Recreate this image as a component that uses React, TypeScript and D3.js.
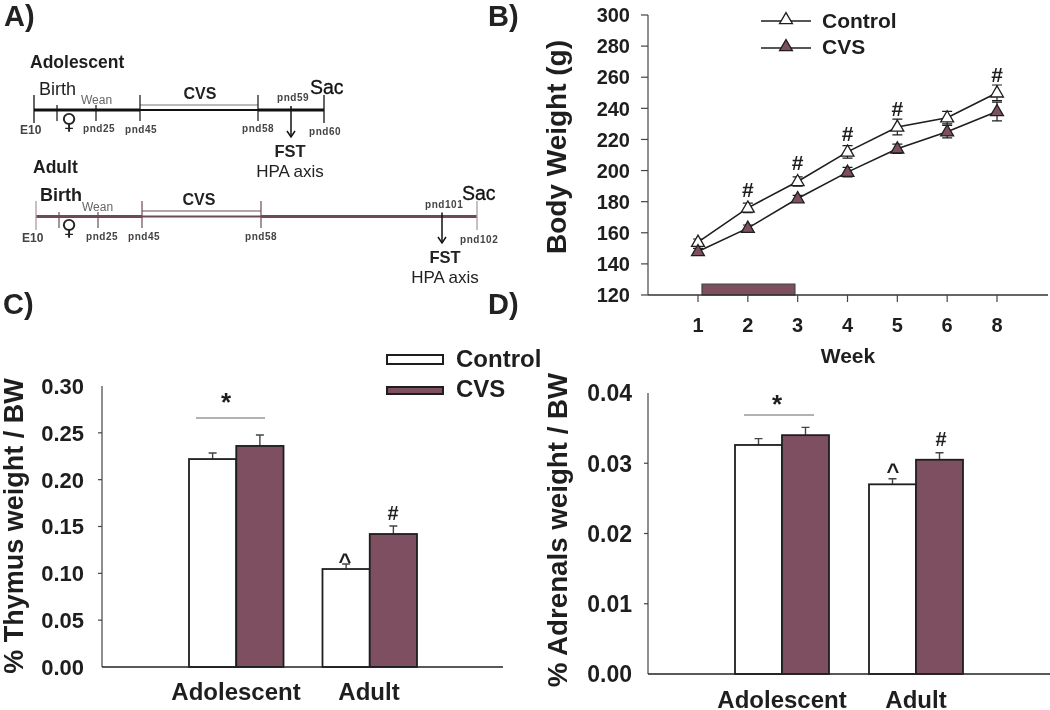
import React from "react";
import * as d3 from "d3";

const FONT = "'Liberation Sans', Arial, sans-serif";
const MAROON = "#7d4f60";
const INK = "#1e1e1e";

// Panel B data
const weeks = ["1", "2", "3", "4", "5", "6", "8"];
const controlWeight = [154, 176, 193, 212, 228, 234, 250];
const cvsWeight = [148, 163, 182, 199, 214, 225, 238];
const controlWeightErr = [2, 3, 3, 4, 5, 4, 5];
const cvsWeightErr = [2, 2, 2, 3, 3, 4, 6];
const hashWeeks = ["2", "3", "4", "5", "8"];
const weightTicks = [120, 140, 160, 180, 200, 220, 240, 260, 280, 300];
const stressSpan = [0.08, 1.945];
const stressTop = 127;

// Panels C and D data
const groups = ["Adolescent", "Adult"];
const seriesNames = ["Control", "CVS"];
const thymusControl = [0.222, 0.1046];
const thymusCvs = [0.236, 0.142];
const thymusControlTop = [0.2285, 0.11];
const thymusCvsTop = [0.2477, 0.1505];
const thymusTicks = [0, 0.05, 0.1, 0.15, 0.2, 0.25, 0.3];
const adrenalControl = [0.0326, 0.027];
const adrenalCvs = [0.034, 0.0305];
const adrenalControlTop = [0.0335, 0.0278];
const adrenalCvsTop = [0.0351, 0.0315];
const adrenalTicks = [0, 0.01, 0.02, 0.03, 0.04];

// Panel A data
const adolescentStages = ["E10", "birth", "pnd25", "pnd45", "pnd58", "pnd59", "pnd60"];
const adultStages = ["E10", "birth", "pnd25", "pnd45", "pnd58", "pnd101", "pnd102"];

type BarProps = {
  left: number; right: number; top: number; bottom: number; domainMax: number;
  bandRange: [number, number]; inner: number; xEnd: number; ticks: number[];
  digits: number; control: number[]; cvs: number[]; controlTop: number[]; cvsTop: number[];
  tickSize: number; tickRight: number; label: string; labelX: number; labelY: number; labelSize: number;
  catY: number; catX: number[]; bracket: [number, number, number]; star: [number, number];
  caret: [number, number]; hash: [number, number];
};

function BarPanel(p: BarProps) {
  const y = d3.scaleLinear().domain([0, p.domainMax]).range([p.bottom, p.top]);
  const g = d3.scaleBand().domain(groups).range(p.bandRange).paddingInner(p.inner).paddingOuter(0);
  const s = d3.scaleBand().domain(seriesNames).range([0, g.bandwidth()]);
  return (
    <g>
      {groups.map((name, i) => (
        <g key={name} transform={`translate(${g(name)},0)`}>
          {seriesNames.map((sn, k) => {
            const v = (k === 0 ? p.control : p.cvs)[i];
            const t = (k === 0 ? p.controlTop : p.cvsTop)[i];
            const cx = s(sn)! + s.bandwidth() / 2;
            return (
              <g key={sn}>
                <path d={`M${cx},${y(v)}V${y(t)}M${cx - 4},${y(t)}H${cx + 4}`} stroke="#444" strokeWidth={1.4} fill="none" />
                <rect x={s(sn)} y={y(v)} width={s.bandwidth()} height={p.bottom - y(v)}
                  fill={k === 0 ? "#fff" : MAROON} stroke={INK} strokeWidth={1.8} />
              </g>
            );
          })}
        </g>
      ))}
      <line x1={p.left} x2={p.left} y1={p.top} y2={p.bottom} stroke="#444" strokeWidth={1.2} />
      <line x1={p.left} x2={p.xEnd} y1={p.bottom} y2={p.bottom} stroke="#222" strokeWidth={1.6} />
      {p.ticks.map((t) => (
        <g key={t}>
          {t > 0 && t < p.domainMax && <line x1={p.left - 4} x2={p.left} y1={y(t)} y2={y(t)} stroke="#444" strokeWidth={1.2} />}
          <text x={p.tickRight} y={y(t)} dy="0.36em" textAnchor="end" fontSize={p.tickSize} fontWeight={700} fill={INK}>
            {t.toFixed(p.digits)}
          </text>
        </g>
      ))}
      <text transform={`translate(${p.labelX},${p.labelY}) rotate(-90)`} textAnchor="middle" fontSize={p.labelSize} fontWeight={700} fill={INK}>
        {p.label}
      </text>
      {groups.map((name, i) => (
        <text key={name} x={p.catX[i]} y={p.catY} textAnchor="middle" fontSize={24} fontWeight={700} fill={INK}>{name}</text>
      ))}
      <line x1={p.bracket[0]} x2={p.bracket[1]} y1={p.bracket[2]} y2={p.bracket[2]} stroke="#666" strokeWidth={1.2} />
      <text x={p.star[0]} y={p.star[1]} textAnchor="middle" fontSize={26} fontWeight={700} fill={INK}>*</text>
      <text x={p.caret[0]} y={p.caret[1]} textAnchor="middle" fontSize={22} fontWeight={700} fill={INK}>^</text>
      <text x={p.hash[0]} y={p.hash[1]} textAnchor="middle" fontSize={20} fontWeight={700} fill={INK}>#</text>
    </g>
  );
}

function WeightPanel() {
  const y = d3.scaleLinear().domain([120, 300]).range([295, 15]);
  const x = d3.scaleLinear().domain([0, 6]).range([698, 997]);
  const line = d3.line<number>().x((_, i) => x(i)).y((d) => y(d));
  const tri = d3.symbol().type(d3.symbolTriangle).size(72)()!;
  const rows = [
    { v: controlWeight, e: controlWeightErr, fill: "#fff" },
    { v: cvsWeight, e: cvsWeightErr, fill: MAROON },
  ];
  return (
    <g>
      <rect x={x(stressSpan[0])} y={y(stressTop)} width={x(stressSpan[1]) - x(stressSpan[0])} height={295 - y(stressTop)}
        fill={MAROON} stroke="#444" strokeWidth={1.2} />
      <line x1={648} x2={648} y1={15} y2={295} stroke="#444" strokeWidth={1.2} />
      <line x1={648} x2={1048} y1={295} y2={295} stroke="#333" strokeWidth={1.4} />
      {weightTicks.map((t) => (
        <g key={t}>
          <line x1={641} x2={648} y1={y(t)} y2={y(t)} stroke="#444" strokeWidth={1.2} />
          <text x={630} y={y(t)} dy="0.36em" textAnchor="end" fontSize={20} fontWeight={700} fill={INK}>{t}</text>
        </g>
      ))}
      {weeks.map((w, i) => (
        <g key={w}>
          <line x1={x(i)} x2={x(i)} y1={295} y2={302} stroke="#444" strokeWidth={1.2} />
          <text x={x(i)} y={332} textAnchor="middle" fontSize={20} fontWeight={700} fill={INK}>{w}</text>
        </g>
      ))}
      <text x={848} y={363} textAnchor="middle" fontSize={21} fontWeight={700} fill={INK}>Week</text>
      <text transform="translate(566,147) rotate(-90)" textAnchor="middle" fontSize={28} fontWeight={700} fill={INK}>Body Weight (g)</text>
      {rows.map((r, k) => (
        <g key={k}>
          <path d={line(r.v)!} fill="none" stroke={INK} strokeWidth={1.6} />
          {r.v.map((v, i) => (
            <g key={i}>
              <path d={`M${x(i) - 5},${y(v + r.e[i])}H${x(i) + 5}M${x(i)},${y(v + r.e[i])}V${y(v - r.e[i])}M${x(i) - 5},${y(v - r.e[i])}H${x(i) + 5}`}
                stroke={INK} strokeWidth={1.2} fill="none" />
              <path d={tri} transform={`translate(${x(i)},${y(v) + 0.5})`} fill={r.fill} stroke={INK} strokeWidth={1.3} />
            </g>
          ))}
        </g>
      ))}
      {hashWeeks.map((w) => {
        const i = weeks.indexOf(w);
        return <text key={w} x={x(i)} y={y(controlWeight[i]) - 11} textAnchor="middle" fontSize={21} fontWeight={700} fill={INK}>#</text>;
      })}
      {seriesNames.map((n, k) => (
        <g key={n}>
          <line x1={761} x2={811} y1={21 + k * 27} y2={21 + k * 27} stroke={INK} strokeWidth={1.4} />
          <path d={tri} transform={`translate(786,${20 + k * 27})`} fill={rows[k].fill} stroke={INK} strokeWidth={1.3} />
          <text x={822} y={28 + k * 26} fontSize={21} fontWeight={700} fill={INK}>{n}</text>
        </g>
      ))}
    </g>
  );
}

type TimelineProps = {
  stages: string[]; range: number[]; axisY: number; color: string; frame: string;
  title: string; titleXY: [number, number]; birth: [number, number, number];
  wean: [number, number]; cvs: [number, number]; sac: [number, number];
  labels: [string, number, number][]; arrowEnd: number;
  texts: [number, number, number]; doubleTop: number; doubleColor: string;
  tall: [number, number]; short: [number, number]; femaleX: number; femaleY: number; lineW: number;
};

function Timeline(p: TimelineProps) {
  const x = d3.scalePoint().domain(p.stages).range([0, 1]);
  const pos = d3.scaleLinear().domain(p.stages.map((s) => x(s)!)).range(p.range);
  const at = (s: string) => pos(x(s)!);
  const [a, b, c, d, e, f, g] = p.stages;
  return (
    <g>
      <line x1={at(a)} x2={at(d)} y1={p.axisY} y2={p.axisY} stroke={p.color} strokeWidth={p.lineW} />
      <line x1={at(e)} x2={at(g)} y1={p.axisY} y2={p.axisY} stroke={p.color} strokeWidth={p.lineW} />
      <line x1={at(d)} x2={at(e)} y1={p.axisY} y2={p.axisY} stroke={p.color} strokeWidth={1.8} />
      <line x1={at(d)} x2={at(e)} y1={p.doubleTop} y2={p.doubleTop} stroke={p.doubleColor} strokeWidth={1.2} />
      {[a, g].map((s) => <line key={s} x1={at(s)} x2={at(s)} y1={p.tall[0]} y2={p.tall[1] + 2} stroke={p.frame} strokeWidth={1.3} />)}
      {[d, e].map((s) => <line key={s} x1={at(s)} x2={at(s)} y1={p.tall[0]} y2={p.tall[1]} stroke={p.color} strokeWidth={1.2} />)}
      {[b, c].map((s) => <line key={s} x1={at(s)} x2={at(s)} y1={p.short[0]} y2={p.short[1]} stroke={p.color} strokeWidth={1.2} />)}
      <line x1={at(f)} x2={at(f)} y1={p.axisY - 4} y2={p.arrowEnd} stroke="#111" strokeWidth={1.5} />
      <path d={`M${at(f) - 4},${p.arrowEnd - 6}L${at(f)},${p.arrowEnd}L${at(f) + 4},${p.arrowEnd - 6}`} fill="none" stroke="#111" strokeWidth={1.5} />
      <text x={p.titleXY[0]} y={p.titleXY[1]} fontSize={17.5} fontWeight={700} fill={INK}>{p.title}</text>
      <text x={p.birth[0]} y={p.birth[1]} fontSize={18} fontWeight={p.birth[2]} fill={INK}>Birth</text>
      <text x={p.wean[0]} y={p.wean[1]} fontSize={12} fill="#666">Wean</text>
      <text x={p.cvs[0]} y={p.cvs[1]} textAnchor="middle" fontSize={16} fontWeight={700} fill="#222">CVS</text>
      <text x={p.sac[0]} y={p.sac[1]} fontSize={19.5} fill="#111" stroke="#111" strokeWidth={0.3}>Sac</text>
      {p.labels.map(([t, lx, ly]) => (
        <text key={t} x={lx} y={ly} fontSize={t === "E10" ? 12 : 10} letterSpacing={t === "E10" ? 0 : 0.55} fontWeight={700} fill="#444">{t}</text>
      ))}
      <text x={p.texts[0]} y={p.texts[1]} textAnchor="middle" fontSize={16.5} fontWeight={700} fill="#222">FST</text>
      <text x={p.texts[0]} y={p.texts[2]} textAnchor="middle" fontSize={17} fill="#222">HPA axis</text>
      <text x={p.femaleX} y={p.femaleY} textAnchor="middle" fontFamily="'DejaVu Sans'" fontSize={22} fill="#222">♀</text>
    </g>
  );
}

export default function App() {
  return (
    <svg width={1050} height={710} viewBox="0 0 1050 710" fontFamily={FONT}
      style={{ position: "absolute", left: 0, top: 0, display: "block", background: "#fff", filter: "blur(0.35px)" }}>
      {[["A)", 4, 26], ["B)", 488, 26], ["C)", 3, 314], ["D)", 488, 314]].map(([t, px, py]) => (
        <text key={t as string} x={px as number} y={py as number} fontSize={29} fontWeight={700} fill="#222">{t}</text>
      ))}
      <Timeline stages={adolescentStages} range={[34, 57, 96, 140, 258, 291, 324]} axisY={110} color="#111" frame="#111"
        title="Adolescent" titleXY={[30, 68]} birth={[39, 95, 400]} wean={[81, 104]} cvs={[200, 99]} sac={[310, 94]}
        labels={[["E10", 20, 134], ["pnd25", 83, 132], ["pnd45", 125, 133], ["pnd58", 242, 132], ["pnd59", 277, 101], ["pnd60", 309, 135]]}
        arrowEnd={137} texts={[290, 157, 177]} doubleTop={105} doubleColor="#777"
        tall={[95, 121]} short={[105, 121]} femaleX={69} femaleY={129} lineW={3} />
      <Timeline stages={adultStages} range={[36, 59, 98, 142, 261, 442, 477]} axisY={216.5} color="#6d4a5a" frame="#b09aa5"
        title="Adult" titleXY={[33, 173]} birth={[40, 201, 700]} wean={[82, 211]} cvs={[199, 205]} sac={[462, 200]}
        labels={[["E10", 22, 242], ["pnd25", 86, 240], ["pnd45", 128, 240], ["pnd58", 245, 240], ["pnd101", 425, 208], ["pnd102", 460, 243]]}
        arrowEnd={243} texts={[445, 263, 283]} doubleTop={211} doubleColor="#6d4a5a"
        tall={[201, 228]} short={[212, 228]} femaleX={69} femaleY={235} lineW={3} />
      <WeightPanel />
      <BarPanel left={102} right={503} top={386} bottom={667} domainMax={0.3} bandRange={[189, 417]} inner={0.292} xEnd={503}
        ticks={thymusTicks} digits={2} control={thymusControl} cvs={thymusCvs} controlTop={thymusControlTop} cvsTop={thymusCvsTop}
        tickSize={22} tickRight={84} label="% Thymus weight / BW" labelX={23} labelY={526} labelSize={27} 
        catY={700} catX={[236, 369]} bracket={[196, 265, 418]} star={[226, 411]} caret={[345, 569]} hash={[393, 520]} />
      <BarPanel left={648} right={1050} top={393} bottom={674} domainMax={0.04} bandRange={[735, 963]} inner={0.2985} xEnd={1050}
        ticks={adrenalTicks} digits={2} control={adrenalControl} cvs={adrenalCvs} controlTop={adrenalControlTop} cvsTop={adrenalCvsTop}
        tickSize={23} tickRight={632} label="% Adrenals weight / BW" labelX={567} labelY={530} labelSize={27.7}
        catY={708} catX={[782, 916]} bracket={[744, 814, 415]} star={[777, 413]} caret={[893, 479]} hash={[941, 446]} />
      {seriesNames.map((n, k) => (
        <g key={n}>
          <rect x={387} y={k === 0 ? 355 : 387} width={56} height={k === 0 ? 9 : 7} fill={k === 0 ? "#fff" : MAROON} stroke={INK} strokeWidth={2} />
          <text x={456} y={k === 0 ? 367 : 397} fontSize={24} fontWeight={700} fill={INK}>{n}</text>
        </g>
      ))}
    </svg>
  );
}
